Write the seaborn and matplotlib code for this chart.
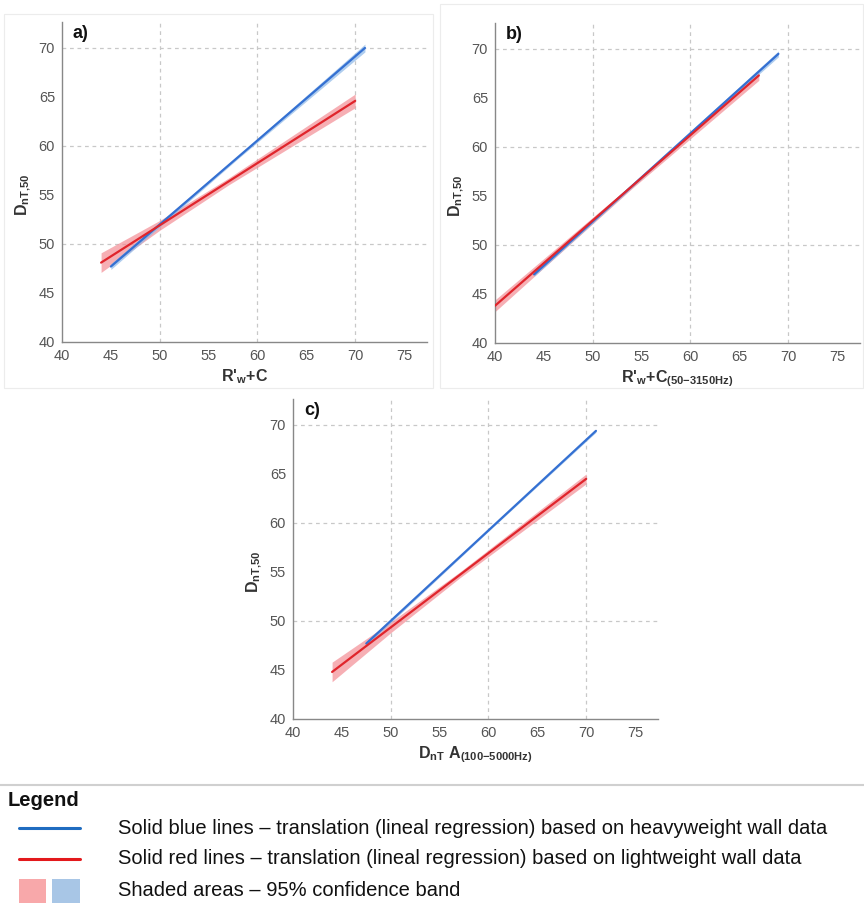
import numpy as np
import pandas as pd
import seaborn as sns
import matplotlib.pyplot as plt
from matplotlib.lines import Line2D
from matplotlib.patches import Rectangle

# ---- data: regression line endpoints and 95% band (x, lower, upper)
a_blue_x = [45, 71]
a_blue_y = [47.7, 70.0]
a_blue_band_x = [45, 58, 71]
a_blue_band_lo = [47.4, 58.7, 69.6]
a_blue_band_hi = [48.0, 59.0, 70.4]
a_red_x = [44, 70]
a_red_y = [48.1, 64.6]
a_red_band_x = [44, 50, 57, 70]
a_red_band_lo = [47.1, 51.4, 56.0, 63.9]
a_red_band_hi = [49.1, 52.4, 56.7, 65.3]

b_blue_x = [44, 69]
b_blue_y = [47.0, 69.5]
b_blue_band_x = [44, 57, 69]
b_blue_band_lo = [46.8, 58.55, 69.2]
b_blue_band_hi = [47.2, 58.85, 69.8]
b_red_x = [40, 67]
b_red_y = [43.8, 67.3]
b_red_band_x = [40, 54, 67]
b_red_band_lo = [43.2, 55.75, 66.8]
b_red_band_hi = [44.4, 56.2, 67.7]

c_blue_x = [47.5, 71]
c_blue_y = [47.7, 69.4]
c_blue_band_x = [47.5, 60, 71]
c_blue_band_lo = [47.5, 59.15, 69.25]
c_blue_band_hi = [47.9, 59.35, 69.55]
c_red_x = [44, 70]
c_red_y = [44.8, 64.5]
c_red_band_x = [44, 50, 57, 70]
c_red_band_lo = [43.8, 48.8, 54.35, 64.0]
c_red_band_hi = [45.8, 49.9, 54.95, 65.0]

ticks = [40, 45, 50, 55, 60, 65, 70, 75]
grid_vals = [50, 60, 70]

sns.set_style('white')
plt.rcParams['font.family'] = ['Liberation Sans', 'DejaVu Sans']
plt.rcParams['mathtext.fontset'] = 'custom'
plt.rcParams['mathtext.rm'] = 'Liberation Sans'
plt.rcParams['mathtext.bf'] = 'Liberation Sans:bold'

BLUE = '#3470d2'
RED = '#e0252c'
BLUE_BAND = '#8db8e8'
RED_BAND = '#f38d95'

W, H = 864, 911
fig = plt.figure(figsize=(W / 100, H / 100), dpi=100)


def px_axes(left, top, right, bottom):
    return fig.add_axes([left / W, 1 - bottom / H, (right - left) / W, (bottom - top) / H])


def panel(ax, letter, xlabel, blue, red):
    bx, by, bbx, blo, bhi = blue
    rx, ry, rbx, rlo, rhi = red
    for v in grid_vals:
        ax.axvline(v, color='#c8c8c8', lw=0.9, ls=(0, (3, 3)), zorder=0)
        ax.axhline(v, color='#c8c8c8', lw=0.9, ls=(0, (3, 3)), zorder=0)
    ax.fill_between(rbx, rlo, rhi, color=RED_BAND, alpha=0.7, lw=0, zorder=1)
    ax.fill_between(bbx, blo, bhi, color=BLUE_BAND, alpha=0.7, lw=0, zorder=1)
    sns.lineplot(x=bx, y=by, ax=ax, color=BLUE, lw=1.6, zorder=3)
    sns.lineplot(x=rx, y=ry, ax=ax, color=RED, lw=1.6, zorder=3)
    ax.set_xlim(40, 77.35)
    ax.set_ylim(40, 72.65)
    ax.set_xticks(ticks)
    ax.set_yticks(ticks[:-1])
    for s in ['top', 'right']:
        ax.spines[s].set_visible(False)
    for s in ['left', 'bottom']:
        ax.spines[s].set_color('#888888')
        ax.spines[s].set_linewidth(1.0)
    ax.tick_params(axis='both', colors='#888888', labelcolor='#555555',
                   labelsize=10.5, length=3, width=0.8, pad=2)
    ax.set_xlabel(xlabel, fontsize=11.5, fontweight='bold', color='#333333', labelpad=3)
    ax.set_ylabel(r'D$_{\mathbf{nT{,}50}}$', fontsize=11.5, fontweight='bold',
                  color='#333333')
    ax.yaxis.set_label_coords(-0.08, 0.46)
    ax.text(0.03, 0.99, letter, transform=ax.transAxes, fontsize=13,
            fontweight='bold', va='top', ha='left', color='#111111')


ax_a = px_axes(62, 22, 427, 342)
panel(ax_a, 'a)', r"R'$_{\mathbf{w}}$+C",
      (a_blue_x, a_blue_y, a_blue_band_x, a_blue_band_lo, a_blue_band_hi),
      (a_red_x, a_red_y, a_red_band_x, a_red_band_lo, a_red_band_hi))

ax_b = px_axes(495, 23, 860, 343)
panel(ax_b, 'b)', r"R'$_{\mathbf{w}}$+C$_{\mathbf{(50{-}3150Hz)}}$",
      (b_blue_x, b_blue_y, b_blue_band_x, b_blue_band_lo, b_blue_band_hi),
      (b_red_x, b_red_y, b_red_band_x, b_red_band_lo, b_red_band_hi))

ax_c = px_axes(293, 399, 658, 719)
panel(ax_c, 'c)', r"D$_{\mathbf{nT}}$ A$_{\mathbf{(100{-}5000Hz)}}$",
      (c_blue_x, c_blue_y, c_blue_band_x, c_blue_band_lo, c_blue_band_hi),
      (c_red_x, c_red_y, c_red_band_x, c_red_band_lo, c_red_band_hi))

# faint frames around the top panels
for (l, t, r, b) in [(4, 14, 433, 388), (440, 4, 863, 388)]:
    fig.add_artist(Rectangle((l / W, 1 - b / H), (r - l) / W, (b - t) / H,
                             transform=fig.transFigure, fill=False,
                             ec='#ececec', lw=0.8))

# separator and legend block
fig.add_artist(Line2D([0, 1], [1 - 785 / H] * 2, transform=fig.transFigure,
                      color='#d0d0d0', lw=1.5))
fig.text(8 / W, 1 - 801 / H, 'Legend', fontsize=14.5, fontweight='bold',
         va='center', ha='left', color='#111111')
legend_rows = [
    'Solid blue lines \u2013 translation (lineal regression) based on heavyweight wall data',
    'Solid red lines \u2013 translation (lineal regression) based on lightweight wall data',
    'Shaded areas \u2013 95% confidence band',
]
row_y = [828, 859, 891]
fig.add_artist(Line2D([19 / W, 80 / W], [1 - 828 / H] * 2, transform=fig.transFigure,
                      color='#1f6cc0', lw=2.2))
fig.add_artist(Line2D([19 / W, 80 / W], [1 - 859 / H] * 2, transform=fig.transFigure,
                      color='#e3191c', lw=2.2))
fig.add_artist(Rectangle((19 / W, 1 - 903 / H), 27 / W, 24 / H, transform=fig.transFigure,
                         color='#f8a8aa', lw=0))
fig.add_artist(Rectangle((52 / W, 1 - 903 / H), 28 / W, 24 / H, transform=fig.transFigure,
                         color='#a8c6e6', lw=0))
for txt, y in zip(legend_rows, row_y):
    fig.text(118 / W, 1 - y / H, txt, fontsize=14.5, va='center', ha='left', color='#111111')

fig.savefig('out.png', dpi=100)
